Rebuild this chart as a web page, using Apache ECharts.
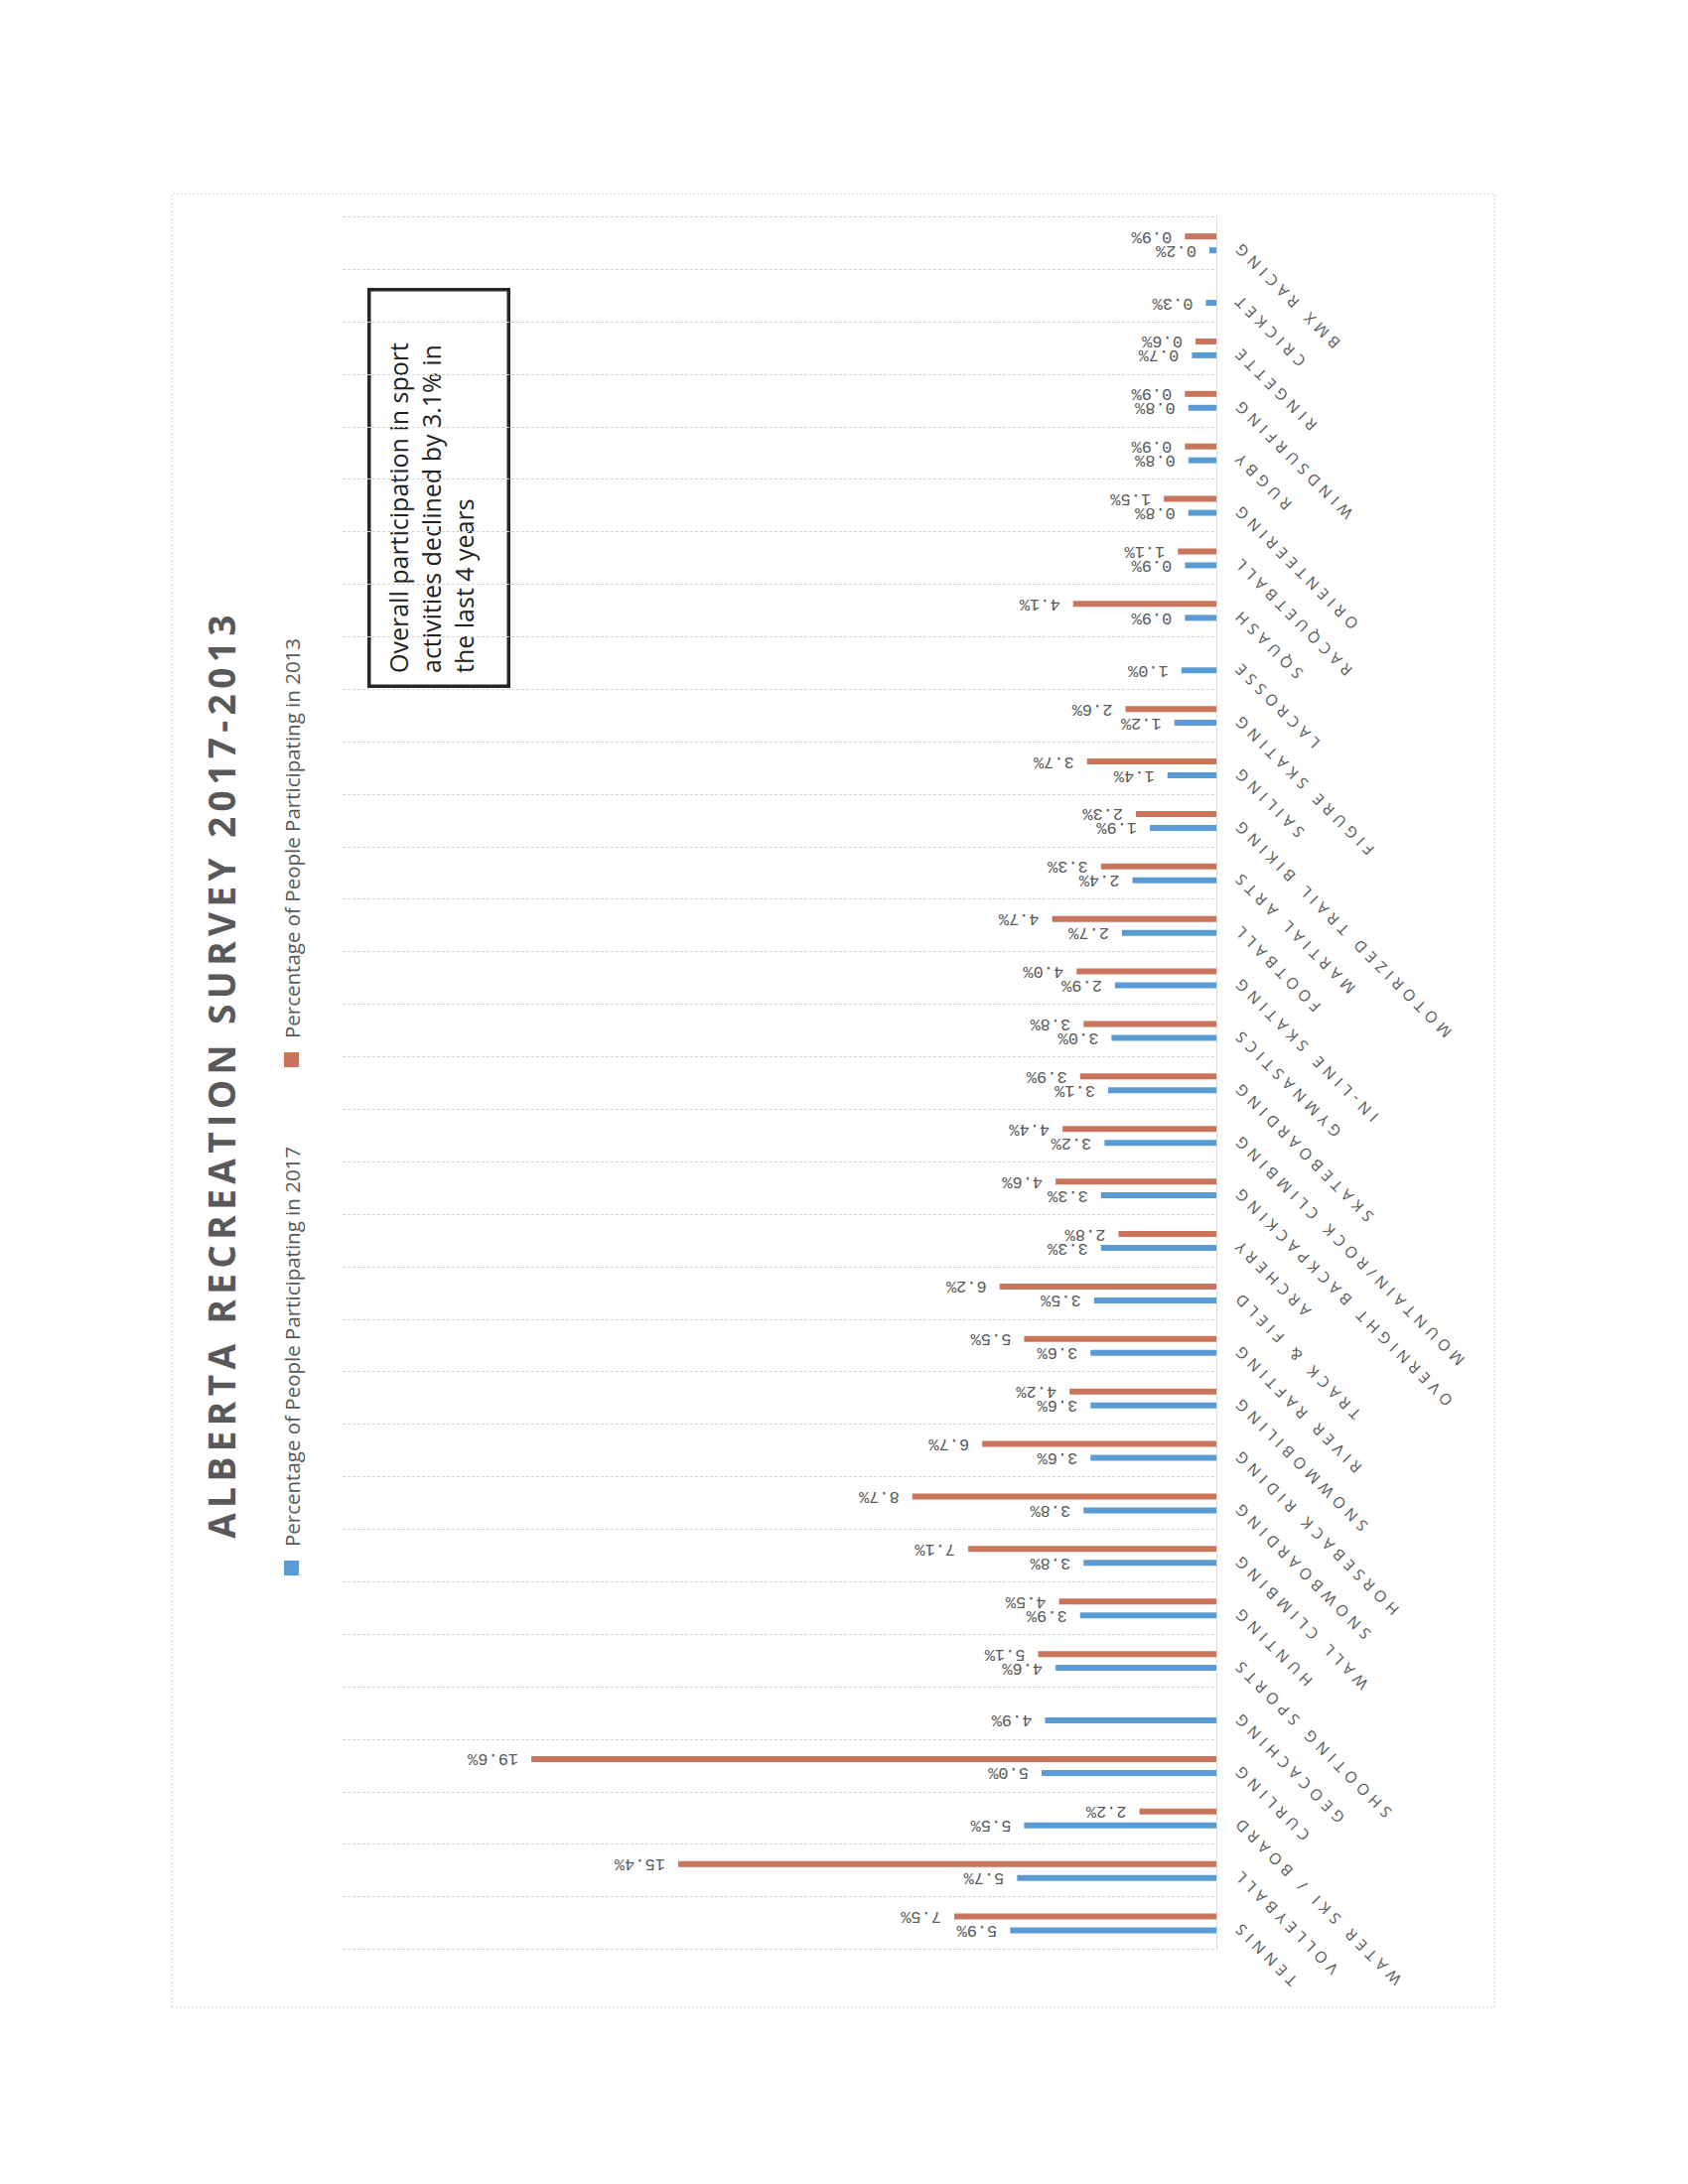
<!DOCTYPE html>
<html>
<head>
<meta charset="utf-8">
<script src="https://cdn.jsdelivr.net/npm/echarts@6/dist/echarts.min.js"></script>
<style>
html,body{margin:0;padding:0;background:#fff;overflow:hidden;width:1700px;height:2200px;}
#chart{position:absolute;left:0;top:2200px;width:2200px;height:1700px;transform-origin:0 0;transform:rotate(-90deg);}
#chart text[style*="15.5px"]{letter-spacing:5.3px;}
#chart text[style*="37px"]{letter-spacing:5.4px;}
</style>
</head>
<body>
<div id="chart"></div>
<script>
const categories = ['TENNIS','VOLLEYBALL','WATER SKI / BOARD','CURLING','GEOCACHING','SHOOTING SPORTS','HUNTING','WALL CLIMBING','SNOWBOARDING','HORSEBACK RIDING','SNOWMOBILING','RIVER RAFTING','TRACK & FIELD','ARCHERY','OVERNIGHT BACKPACKING','MOUNTAIN/ROCK CLIMBING','SKATEBOARDING','GYMNASTICS','IN-LINE SKATING','FOOTBALL','MARTIAL ARTS','MOTORIZED TRAIL BIKING','SAILING','FIGURE SKATING','LACROSSE','SQUASH','RACQUETBALL','ORIENTEERING','RUGBY','WINDSURFING','RINGETTE','CRICKET','BMX RACING'];
const values2017 = [5.9,5.7,5.5,5.0,4.9,4.6,3.9,3.8,3.8,3.6,3.6,3.6,3.5,3.3,3.3,3.2,3.1,3.0,2.9,2.7,2.4,1.9,1.4,1.2,1.0,0.9,0.9,0.8,0.8,0.8,0.7,0.3,0.2];
const values2013 = [7.5,15.4,2.2,19.6,null,5.1,4.5,7.1,8.7,6.7,4.2,5.5,6.2,2.8,4.6,4.4,3.9,3.8,4.0,4.7,3.3,2.3,3.7,2.6,null,4.1,1.1,1.5,0.9,0.9,0.6,null,0.9];
const seriesNames = ['Percentage of People Participating in 2017','Percentage of People Participating in 2013'];
const titleText = 'ALBERTA RECREATION SURVEY 2017-2013';
const noteLines = ['Overall participation in sport','activities declined by 3.1% in','the last 4 years'];
const valueMin = 0;
const valueMax = 25;

const chart = echarts.init(document.getElementById('chart'), null, {renderer: 'svg', width: 2200, height: 1700});

function valueLabel() {
  return {
    show: true, position: 'top', rotate: 90, align: 'left', verticalAlign: 'middle',
    distance: 13, color: '#595959', fontFamily: 'Liberation Mono', fontSize: 17,
    formatter: p => (p.value == null || p.value === '-') ? '' : Number(p.value).toFixed(1) + '%'
  };
}
const legendBase = {
  orient: 'horizontal', top: 283, padding: 0, itemWidth: 15, itemHeight: 15, icon: 'rect',
  textStyle: {color: '#595959', fontFamily: 'Open Sans', fontSize: 20.5, padding: [0, 0, 0, 9]}
};

chart.setOption({
  animation: false,
  backgroundColor: '#ffffff',
  title: {
    text: titleText, left: 1118, top: 204, padding: 0, textAlign: 'center',
    textStyle: {fontFamily: 'Open Sans', fontWeight: 'bold', fontSize: 37, color: '#595959'}
  },
  legend: [
    Object.assign({}, legendBase, {left: 613, data: [seriesNames[0]]}),
    Object.assign({}, legendBase, {left: 1125, data: [seriesNames[1]]})
  ],
  grid: {left: 236, right: 218.7, top: 345, bottom: 475, containLabel: false, outerBoundsMode: 'none'},
  xAxis: {
    type: 'category', data: categories, boundaryGap: true,
    axisLine: {show: true, lineStyle: {color: '#d9d9d9', width: 1}},
    axisTick: {show: false},
    axisLabel: {interval: 0, rotate: 45, margin: 18, color: '#595959', fontFamily: 'Open Sans', fontSize: 15.5},
    splitLine: {show: true, interval: 0, lineStyle: {color: '#d4d4d4', width: 1, type: [3, 2]}}
  },
  yAxis: {type: 'value', min: valueMin, max: valueMax, show: false},
  series: [
    {name: seriesNames[0], type: 'bar', data: values2017, barWidth: 6, barGap: '133%',
     itemStyle: {color: '#5b9bd5'}, label: valueLabel()},
    {name: seriesNames[1], type: 'bar', data: values2013, barWidth: 6,
     itemStyle: {color: '#c8755c'}, label: valueLabel()}
  ],
  graphic: [
    {type: 'rect', silent: true, shape: {x: 178, y: 173, width: 1827, height: 1332},
     style: {fill: 'none', stroke: '#d4d4d4', lineWidth: 1, lineDash: [2, 2]}},
    {type: 'rect', silent: true, shape: {x: 1508.75, y: 371.75, width: 399.5, height: 140.5},
     style: {fill: '#ffffff', stroke: '#262626', lineWidth: 3.5}},
    {type: 'text', silent: true, x: 1522, y: 434,
     style: {text: noteLines.join('\n'), font: '25px "Open Sans"', fill: '#222222', lineHeight: 33,
             align: 'left', verticalAlign: 'middle', textAlign: 'left', textVerticalAlign: 'middle'}}
  ]
});

function applySpacing() {
  document.querySelectorAll('#chart svg text').forEach(t => {
    const s = t.textContent;
    if (categories.indexOf(s) >= 0) t.setAttribute('letter-spacing', '5.3');
    else if (s === titleText) t.setAttribute('letter-spacing', '5.4');
  });
}
applySpacing();
chart.on('finished', applySpacing);
setTimeout(applySpacing, 50);
</script>
</body>
</html>
